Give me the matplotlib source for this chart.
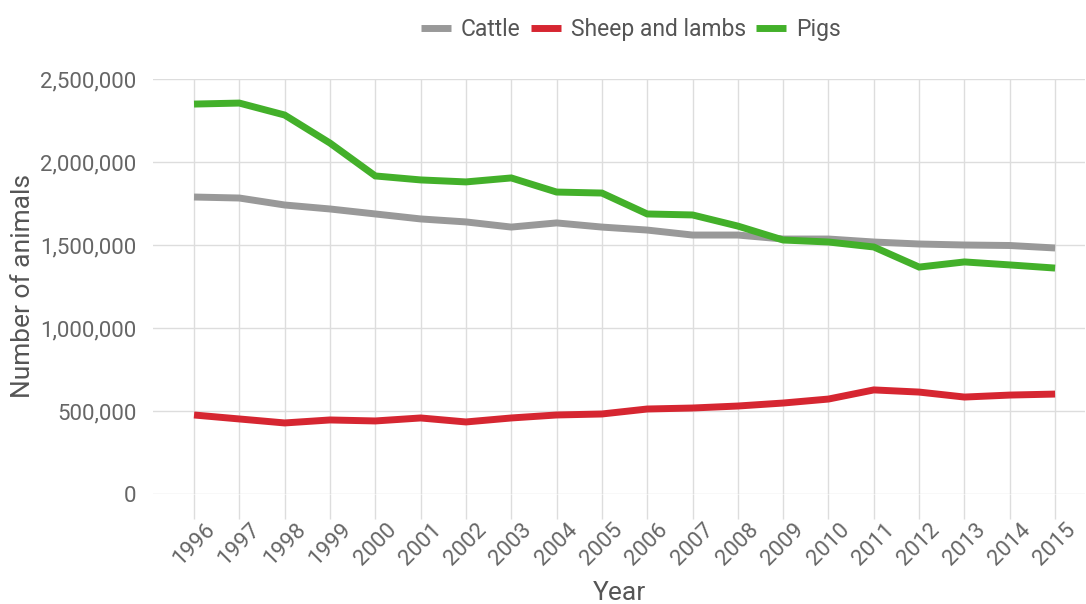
import matplotlib
matplotlib.use("Agg")
import matplotlib.pyplot as plt
from matplotlib.ticker import FuncFormatter
import matplotlib.transforms as mtransforms

plt.rcParams['font.family'] = ['Roboto', 'DejaVu Sans']

years = list(range(1996, 2016))
cattle = [1789000, 1783000, 1741000, 1717000, 1687000, 1657000, 1639000, 1608000, 1633000, 1608000,
          1590000, 1560000, 1560000, 1536000, 1536000, 1518000, 1506000, 1500000, 1497000, 1482000]
sheep = [476000, 452000, 428000, 446000, 440000, 458000, 434000, 458000, 476000, 482000,
         512000, 518000, 530000, 548000, 572000, 627000, 614000, 584000, 596000, 602000]
pigs = [2349000, 2355000, 2283000, 2114000, 1916000, 1892000, 1880000, 1904000, 1819000, 1813000,
        1687000, 1681000, 1614000, 1530000, 1518000, 1488000, 1367000, 1398000, 1380000, 1361000]
series_names = ["Cattle", "Sheep and lambs", "Pigs"]
colors = ["#999999", "#d62631", "#43b02a"]
yticks = [0, 500000, 1000000, 1500000, 2000000, 2500000]

fig = plt.figure(figsize=(10.86, 6.04), dpi=100)
ax = fig.add_axes([153/1086, 1 - 494/604, (1085-153)/1086, (494-79)/604])

for name, vals, c in zip(series_names, [cattle, sheep, pigs], colors):
    ax.plot(years, vals, color=c, lw=5, label=name, solid_capstyle='butt', solid_joinstyle='miter')

ax.set_xlim(1996 - 0.905, 2015 + 0.66)
ax.set_ylim(0, 2500000)
ax.set_yticks(yticks)
ax.yaxis.set_major_formatter(FuncFormatter(lambda v, p: f"{int(v):,}"))
ax.set_xticks(years)
ax.set_xticklabels([str(y) for y in years], rotation=45, ha='center', va='top')
offset = mtransforms.ScaledTranslation(8/100, 0, fig.dpi_scale_trans)
for lbl in ax.get_xticklabels():
    lbl.set_transform(lbl.get_transform() + offset)

ax.grid(True, color="#dddddd", lw=1)
ax.set_axisbelow(True)
for s in ax.spines.values():
    s.set_visible(False)
ax.tick_params(axis='x', length=18, color="#dddddd", width=1, labelsize=16, labelcolor="#666666", pad=0)
ax.tick_params(axis='y', length=0, labelsize=16, labelcolor="#666666", pad=12)

ax.set_ylabel("Number of animals", fontsize=19, color="#555555", labelpad=4)
ax.set_xlabel("Year", fontsize=19, color="#555555", labelpad=8)

leg = fig.legend(loc='upper center', bbox_to_anchor=(631/1086, 1.005), ncol=3, frameon=False,
                 fontsize=16.5, handlelength=1.31, handletextpad=0.44, columnspacing=0.44,
                 labelcolor="#555555")
for h in leg.get_lines():
    h.set_linewidth(5)

fig.savefig("out.png", dpi=100)
